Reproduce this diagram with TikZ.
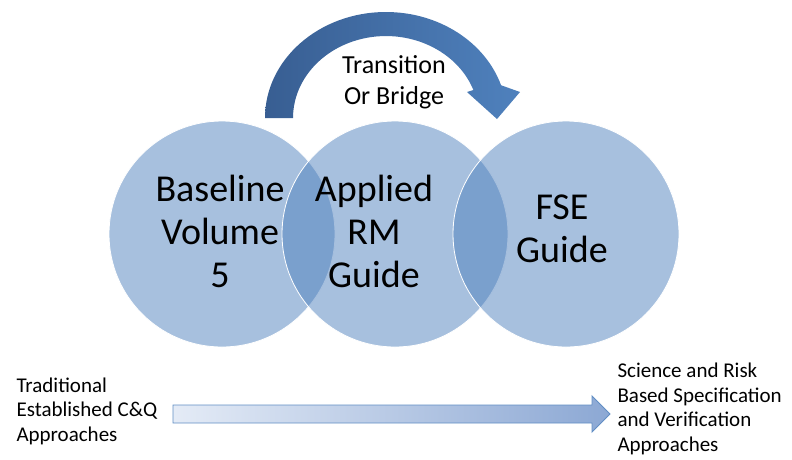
\documentclass[tikz,border=0pt]{standalone}
\usepackage{fontspec}
\setmainfont{Carlito}
\usetikzlibrary{positioning}

\definecolor{accblue}{RGB}{79,129,189}
\definecolor{arcdark}{RGB}{56,94,146}
\definecolor{barlight}{RGB}{228,235,246}
\definecolor{barblue}{RGB}{140,168,212}

\begin{document}
\begin{tikzpicture}[x=1pt,y=-1pt,
  venn/.style={circle,minimum size=226pt,inner sep=0pt,fill=accblue,fill opacity=0.5,draw=white,line width=0.8pt},
  guide/.style={font=\fontsize{38}{43}\selectfont,align=center,text=black},
  bridge/.style={font=\fontsize{26}{31}\selectfont,align=center,text=black},
  side/.style={font=\fontsize{21}{24.5}\selectfont,align=left,anchor=west,text=black},
  bararrow/.style={left color=barlight,right color=barblue,draw=accblue!90,line width=0.9pt}]

\useasboundingbox (0,0) rectangle (792,459);

% the three guides
\node [venn] (base) at (222,234) {};
\node [venn] (applied) at (395,234) {};
\node [venn] (fse) at (566,234) {};
\node [guide] (basetxt) at (220,231) {Baseline\\Volume\\5};
\node [guide] (appliedtxt) at (374,231) {Applied\\RM\\Guide};
\node [guide] (fsetxt) at (562,229) {FSE\\Guide};

% curved transition arrow
\shade [left color=arcdark,right color=accblue] (265,118) arc [start angle=180,end angle=342,x radius=121,y radius=106]
  -- (520,92) -- (497,119) -- (467,92)
  -- (473.4,90) arc [start angle=340,end angle=180,x radius=93,y radius=82] -- cycle;
\node [bridge] (bridgetxt) at (394,82) {Transition\\Or Bridge};

% bottom arrow
\node [side] (oldway) at (13,411) {Traditional\\Established C\&Q\\Approaches};
\node [side] (newway) at (614,409) {Science and Risk\\Based Specification\\and Verification\\Approaches};
\coordinate (cqstart) at (173,414);
\coordinate (cqend) at (610,414);
\shadedraw [bararrow] (cqstart) ++(0,-9) -- ++(419,0) -- ++(0,-9) -- (cqend) -- ++(-18,18) -- ++(0,-9) -- ++(-419,0) -- cycle;
\end{tikzpicture}
\end{document}
